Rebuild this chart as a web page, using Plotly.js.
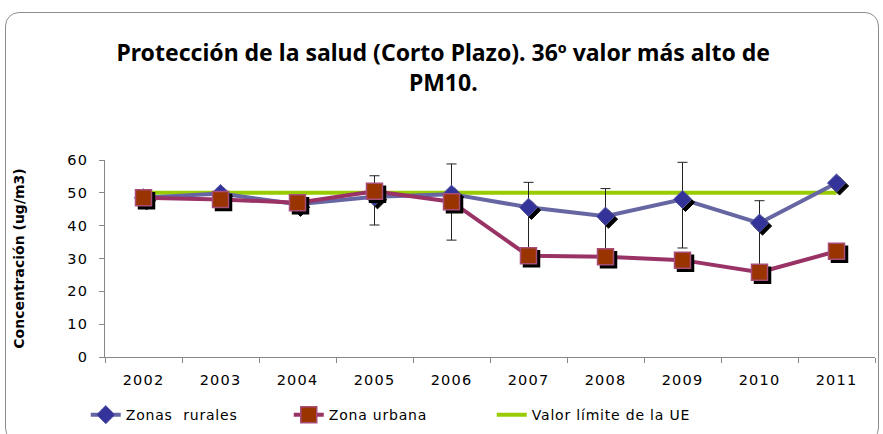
<!DOCTYPE html>
<html>
<head>
<meta charset="utf-8">
<script src="https://cdn.plot.ly/plotly-3.0.1.min.js"></script>
<style>
html,body{margin:0;padding:0;background:#fff;}
#wrap{position:relative;width:883px;height:434px;}
#chart{position:absolute;left:0;top:0;width:883px;height:434px;}
#frame{position:absolute;left:5px;top:12px;width:874px;height:430px;border:1px solid #8c8c8c;border-radius:14px;pointer-events:none;box-sizing:border-box;}
.scatterlayer .points path{filter:drop-shadow(3px 3px 0 #000);}
.xtick text,.ytick text{letter-spacing:1.2px;}
.legendtext{letter-spacing:0.8px;}
</style>
</head>
<body>
<div id="wrap"><div id="chart"></div><div id="frame"></div></div>
<script>
const years = ['2002','2003','2004','2005','2006','2007','2008','2009','2010','2011'];
const rurales = [48.5, 49.8, 46.5, 48.8, 49.6, 45.6, 42.9, 48.0, 40.8, 53.0];
const rurErrPlus  = [0, 0, 0, 6.4, 9.2, 7.6, 8.4, 11.3, 6.8, 0];
const rurErrMinus = [0, 0, 0, 8.6, 14.0, 14.0, 12.0, 14.8, 14.0, 0];
const urbana = [48.5, 48.0, 47.0, 50.5, 47.3, 30.8, 30.5, 29.5, 25.8, 32.2];
const limite = [50, 50, 50, 50, 50, 50, 50, 50, 50, 50];

const traces = [
  {
    x: years, y: limite, type: 'scatter', mode: 'lines',
    name: 'Valor límite de la UE', legendrank: 3,
    line: {color: '#99cc00', width: 4}
  },
  {
    x: years, y: rurales, type: 'scatter', mode: 'lines+markers',
    name: 'Zonas  rurales', legendrank: 1,
    line: {color: '#6666a3', width: 4},
    marker: {symbol: 'diamond', size: 14, color: '#333399', line: {color: '#5a5aa6', width: 1}},
    error_y: {type: 'data', symmetric: false, array: rurErrPlus, arrayminus: rurErrMinus,
              color: '#222', thickness: 1, width: 5}
  },
  {
    x: years, y: urbana, type: 'scatter', mode: 'lines+markers',
    name: 'Zona urbana', legendrank: 2,
    line: {color: '#993366', width: 4},
    marker: {symbol: 'square', size: 16, color: '#993300', line: {color: '#a64d79', width: 1.5}}
  }
];

const layout = {
  width: 883, height: 434,
  margin: {l: 105, r: 8, t: 160, b: 77, autoexpand: false},
  paper_bgcolor: 'rgba(0,0,0,0)', plot_bgcolor: '#fff',
  font: {family: 'DejaVu Sans', color: '#000'},
  title: {
    text: '<b>Protección de la salud (Corto Plazo). 36º valor más alto de<br>PM10.</b>',
    font: {family: 'Noto Sans', size: 23, color: '#000'},
    x: 0.502, xanchor: 'center', yref: 'container', y: 0.86, yanchor: 'top'
  },
  xaxis: {
    type: 'category', range: [-0.5, 9.5],
    showgrid: false, zeroline: false,
    showline: true, linecolor: '#888', linewidth: 1,
    ticks: 'outside', tickson: 'boundaries', ticklen: 5, tickcolor: '#888',
    ticklabelstandoff: 10,
    tickfont: {family: 'DejaVu Sans', size: 14.5, color: '#000'}
  },
  yaxis: {
    range: [0, 60], dtick: 10,
    showgrid: false, zeroline: false,
    showline: true, linecolor: '#888', linewidth: 1,
    ticks: 'outside', ticklen: 5, tickcolor: '#888',
    ticklabelstandoff: 8,
    tickfont: {family: 'DejaVu Sans', size: 14.5, color: '#000'},
    title: {text: '<b>Concentración (ug/m3)</b>', font: {family: 'DejaVu Sans', size: 14, color: '#000'}, standoff: 39}
  },
  showlegend: true,
  legend: {
    orientation: 'h', x: -0.025, xanchor: 'left', y: -0.295, yanchor: 'middle',
    font: {family: 'DejaVu Sans', size: 14, color: '#000'},
    entrywidth: 158, entrywidthmode: 'pixels',
    bgcolor: 'rgba(0,0,0,0)', traceorder: 'normal'
  }
};

Plotly.newPlot('chart', traces, layout, {displayModeBar: false, staticPlot: true});
</script>
</body>
</html>
